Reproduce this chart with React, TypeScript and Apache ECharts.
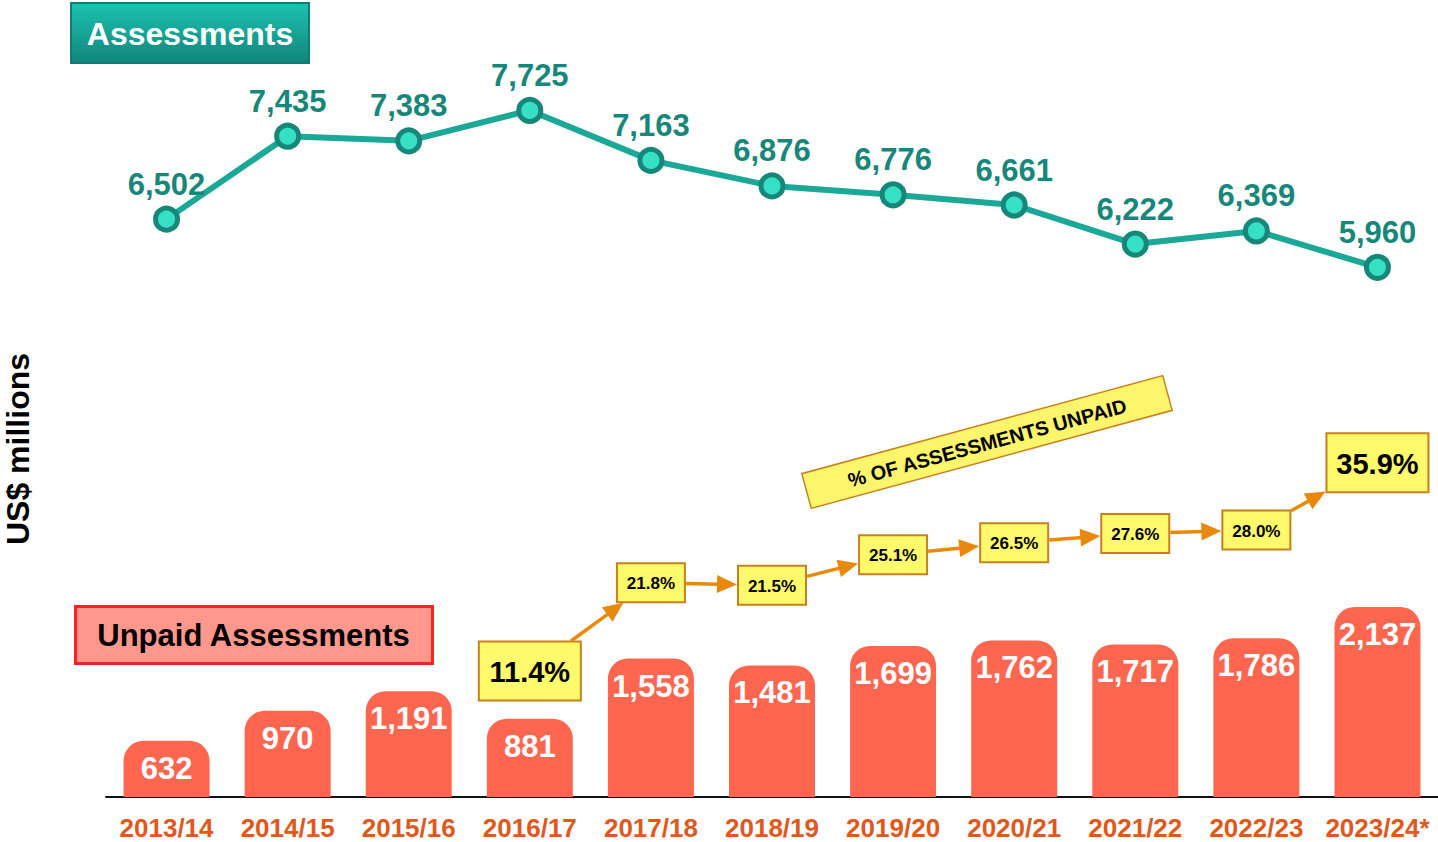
import React, { useEffect, useRef } from 'react';
import * as echarts from 'echarts';

const years = ['2013/14', '2014/15', '2015/16', '2016/17', '2017/18', '2018/19', '2019/20', '2020/21', '2021/22', '2022/23', '2023/24*'];
const assessments = [6502, 7435, 7383, 7725, 7163, 6876, 6776, 6661, 6222, 6369, 5960];
const unpaid = [632, 970, 1191, 881, 1558, 1481, 1699, 1762, 1717, 1786, 2137];
const pctUnpaid: (number | null)[] = [null, null, null, 11.4, 21.8, 21.5, 25.1, 26.5, 27.6, 28.0, 35.9];

const FONT = '"Liberation Sans", Arial, Helvetica, sans-serif';

export default function App() {
  const ref = useRef<HTMLDivElement>(null);
  useEffect(() => {
    const chart = echarts.init(ref.current!, null, { renderer: 'svg' });
    const pctPoints = pctUnpaid
      .map((v, i) => (v == null ? null : [i, v]))
      .filter((d) => d !== null) as number[][];
    const n = pctPoints.length;
    const boxSize = (k: number) => (k === 0 || k === n - 1 ? [102, 59] : [68, 39]);

    const renderPct = (params: any, api: any) => {
      const k = params.dataIndex;
      const c = api.coord(pctPoints[k]);
      const [w, h] = boxSize(k);
      const big = k === 0 || k === n - 1;
      const children: any[] = [];
      if (k > 0) {
        const p = api.coord(pctPoints[k - 1]);
        const [pw, ph] = boxSize(k - 1);
        const dx = c[0] - p[0];
        const dy = c[1] - p[1];
        const len = Math.hypot(dx, dy);
        const ux = dx / len;
        const uy = dy / len;
        const t1 = Math.min(pw / 2 / Math.abs(ux), ph / 2 / Math.abs(uy)) + 1;
        const t2 = Math.min(w / 2 / Math.abs(ux), h / 2 / Math.abs(uy)) + 1;
        const sx = p[0] + ux * t1;
        const sy = p[1] + uy * t1;
        const ex = c[0] - ux * t2;
        const ey = c[1] - uy * t2;
        const hl = 20;
        const hw = 9;
        const bx = ex - ux * hl;
        const by = ey - uy * hl;
        children.push({
          type: 'line',
          shape: { x1: sx, y1: sy, x2: bx + ux * 2, y2: by + uy * 2 },
          style: { stroke: '#e8890c', lineWidth: 3.5 },
        });
        children.push({
          type: 'polygon',
          shape: { points: [[ex, ey], [bx - uy * hw, by + ux * hw], [bx + uy * hw, by - ux * hw]] },
          style: { fill: '#e8890c' },
        });
      }
      children.push({
        type: 'rect',
        shape: { x: c[0] - w / 2, y: c[1] - h / 2, width: w, height: h },
        style: { fill: '#fefa6b', stroke: '#c8801e', lineWidth: 2 },
      });
      children.push({
        type: 'text',
        x: c[0],
        y: c[1] + 1,
        style: {
          text: api.value(1).toFixed(1) + '%',
          fill: '#000',
          fontSize: big ? 29 : 17,
          fontWeight: 'bold',
          fontFamily: FONT,
          align: 'center',
          verticalAlign: 'middle',
        },
      });
      return { type: 'group', children };
    };

    chart.setOption({
      animation: false,
      backgroundColor: '#ffffff',
      grid: [
        { left: 106, top: 86, width: 1334, height: 711 },
        { left: 106, top: 428, width: 1334, height: 340 },
      ],
      xAxis: [
        {
          type: 'category',
          gridIndex: 0,
          data: years,
          boundaryGap: true,
          axisLine: { show: true, lineStyle: { color: '#111', width: 2 } },
          axisTick: { show: false },
          axisLabel: {
            interval: 0,
            color: '#e0581c',
            fontSize: 26,
            fontWeight: 'bold',
            fontFamily: FONT,
            margin: 18,
          },
        },
        { type: 'category', gridIndex: 1, data: years, show: false },
      ],
      yAxis: [
        { type: 'value', gridIndex: 0, min: 0, max: 8000, show: false, splitLine: { show: false } },
        { type: 'value', gridIndex: 1, min: 0, max: 40, show: false, splitLine: { show: false } },
      ],
      series: [
        {
          name: 'Unpaid Assessments',
          type: 'bar',
          xAxisIndex: 0,
          yAxisIndex: 0,
          data: unpaid,
          barWidth: 86,
          itemStyle: { color: '#ff6650', borderRadius: [20, 20, 0, 0] },
          label: {
            show: true,
            position: 'insideTop',
            distance: 12,
            color: '#ffffff',
            fontSize: 31,
            fontWeight: 'bold',
            fontFamily: FONT,
            formatter: (p: any) => Number(p.value).toLocaleString('en-US'),
          },
        },
        {
          name: 'Assessments',
          type: 'line',
          xAxisIndex: 0,
          yAxisIndex: 0,
          data: assessments,
          lineStyle: { color: '#1ba897', width: 6 },
          symbol: 'circle',
          symbolSize: 22,
          itemStyle: { color: '#35e0c5', borderColor: '#17877a', borderWidth: 5 },
          label: {
            show: true,
            position: 'top',
            distance: 6,
            color: '#17877a',
            fontSize: 31,
            fontWeight: 'bold',
            fontFamily: FONT,
            formatter: (p: any) => Number(p.value).toLocaleString('en-US'),
          },
          z: 3,
        },
        {
          name: '% of assessments unpaid',
          type: 'custom',
          xAxisIndex: 1,
          yAxisIndex: 1,
          data: pctPoints,
          renderItem: renderPct,
          clip: false,
          z: 5,
        },
      ],
      graphic: [
        {
          type: 'group',
          left: 70,
          top: 2,
          children: [
            {
              type: 'rect',
              shape: { x: 0, y: 0, width: 238, height: 60 },
              style: {
                fill: new echarts.graphic.LinearGradient(0, 0, 0, 1, [
                  { offset: 0, color: '#1cc2b0' },
                  { offset: 1, color: '#11867b' },
                ]),
                stroke: '#0e7d72',
                lineWidth: 2,
              },
            },
            {
              type: 'text',
              x: 119,
              y: 31,
              style: {
                text: 'Assessments',
                fill: '#ffffff',
                fontSize: 32,
                fontWeight: 'bold',
                fontFamily: FONT,
                align: 'center',
                verticalAlign: 'middle',
              },
            },
          ],
        },
        {
          type: 'group',
          left: 74,
          top: 605,
          children: [
            {
              type: 'rect',
              shape: { x: 0, y: 0, width: 357, height: 57 },
              style: { fill: '#ff978c', stroke: '#ff2222', lineWidth: 3 },
            },
            {
              type: 'text',
              x: 178,
              y: 29,
              style: {
                text: 'Unpaid Assessments',
                fill: '#000000',
                fontSize: 31,
                fontWeight: 'bold',
                fontFamily: FONT,
                align: 'center',
                verticalAlign: 'middle',
              },
            },
          ],
        },
        {
          type: 'group',
          x: 987,
          y: 442,
          rotation: (15.2 * Math.PI) / 180,
          children: [
            {
              type: 'rect',
              shape: { x: -187, y: -18, width: 374, height: 36 },
              style: { fill: '#fdf56b', stroke: '#c8801e', lineWidth: 1.5 },
            },
            {
              type: 'text',
              x: 0,
              y: 1,
              style: {
                text: '% OF ASSESSMENTS UNPAID',
                fill: '#000000',
                fontSize: 20,
                fontWeight: 'bold',
                fontFamily: FONT,
                align: 'center',
                verticalAlign: 'middle',
              },
            },
          ],
        },
        {
          type: 'text',
          x: 18,
          y: 449,
          rotation: Math.PI / 2,
          style: {
            text: 'US$ millions',
            fill: '#000000',
            fontSize: 32,
            fontWeight: 'bold',
            fontFamily: FONT,
            align: 'center',
            verticalAlign: 'middle',
          },
        },
      ],
    });
    return () => chart.dispose();
  }, []);
  return (
    <div
      ref={ref}
      style={{ position: 'fixed', left: 0, top: 0, width: 1438, height: 842, background: '#fff' }}
    />
  );
}
